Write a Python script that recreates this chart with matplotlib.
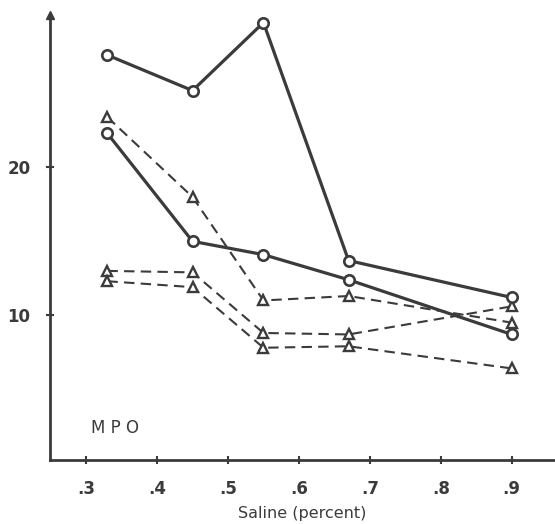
import numpy as np
import matplotlib
matplotlib.use("Agg")
import matplotlib.pyplot as plt

saline = [0.33, 0.45, 0.55, 0.67, 0.90]

# solid lines, open circles
circ_a = [27.6, 25.2, 29.8, 13.7, 11.2]
circ_b = [22.3, 15.0, 14.1, 12.4, 8.7]
# dashed lines, open triangles
tri_a = [23.4, 18.0, 11.0, 11.3, 9.5]
tri_b = [13.0, 12.9, 8.8, 8.7, 10.6]
tri_c = [12.3, 11.9, 7.8, 7.9, 6.4]

xticks = [0.3, 0.4, 0.5, 0.6, 0.7, 0.8, 0.9]
xlabels = [".3", ".4", ".5", ".6", ".7", ".8", ".9"]
yticks = [10, 20]

ink = "#3b3b3b"

fig = plt.figure(figsize=(5.55, 5.24), dpi=100)
ax = fig.add_axes([0.09, 0.122, 0.91, 0.849])

for ys in (circ_a, circ_b):
    ax.plot(saline, ys, color=ink, lw=2.3, marker="o", ms=7.5,
            mfc="white", mec=ink, mew=1.9, zorder=3)
for ys in (tri_a, tri_b, tri_c):
    ax.plot(saline, ys, color=ink, lw=1.5, ls=(0, (5, 3)), marker="^", ms=7,
            mfc="white", mec=ink, mew=1.7, zorder=2)

ax.set_xlim(0.249, 0.961)
ax.set_ylim(0.2, 30.3)

for s in ["top", "right"]:
    ax.spines[s].set_visible(False)
for s in ["left", "bottom"]:
    ax.spines[s].set_color(ink)
    ax.spines[s].set_linewidth(2)

ax.plot(0, 1, marker="^", ms=6, color=ink, transform=ax.transAxes, clip_on=False)

ax.set_xticks(xticks)
ax.set_xticklabels(xlabels, fontsize=12, fontweight="bold", color=ink)
ax.set_yticks(yticks)
ax.set_yticklabels([str(v) for v in yticks], fontsize=12, fontweight="bold", color=ink)
ax.tick_params(direction="inout", length=6, width=1.5, color=ink, pad=11)

ax.text(0.307, 2.0, "M P O", fontsize=12, color=ink)
ax.set_xlabel("Saline (percent)", fontsize=11.5, color=ink, labelpad=6)

fig.savefig("out.png", dpi=100)
